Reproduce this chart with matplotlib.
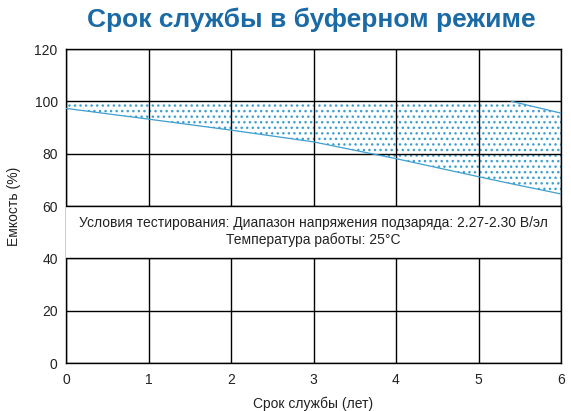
import numpy as np
import matplotlib.pyplot as plt

plt.rcParams['font.family'] = ['Liberation Sans', 'DejaVu Sans']
plt.rcParams['hatch.linewidth'] = 1.0

# data
years = [0, 1, 2, 3, 4, 5, 5.4, 6]
upper = [100, 100, 100, 100, 100, 100, 100, 95.5]
lower = [97.3, 93.2, 89.0, 84.5, 78.1, 71.2, 68.5, 64.6]

xticks = [0, 1, 2, 3, 4, 5, 6]
yticks = [0, 20, 40, 60, 80, 100, 120]

blue = '#3f9fd0'

fig = plt.figure(figsize=(5.71, 4.11), dpi=100)
ax = fig.add_axes([66 / 571, 1 - 363 / 411, 495 / 571, 314 / 411])

ax.fill_between(years, lower, upper, facecolor='none', edgecolor=blue,
                hatch='...', linewidth=0, zorder=1)
ax.plot(years, lower, color=blue, lw=0.9, zorder=3)
ax.plot(years[-2:], upper[-2:], color=blue, lw=0.9, zorder=3)

ax.set_xlim(0, 6)
ax.set_ylim(0, 120)
ax.set_xticks(xticks)
ax.set_yticks(yticks)
ax.grid(True, color='black', lw=1, zorder=2)
ax.set_axisbelow(False)
for s in ax.spines.values():
    s.set_color('black')
    s.set_linewidth(1)
ax.tick_params(length=0, labelsize=10, colors='#222222')
ax.tick_params(axis='x', pad=7)
ax.tick_params(axis='y', pad=6)

# white box for the test conditions
ax.axhspan(40, 60, facecolor='white', edgecolor='none', zorder=4)
ax.axhline(60, color='black', lw=1, zorder=5)
ax.axhline(40, color='black', lw=1, zorder=5)
ax.plot([6, 6], [40, 60], color='black', lw=1, zorder=5, clip_on=False)
ax.text(3, 53.5, 'Условия тестирования: Диапазон напряжения подзаряда: 2.27-2.30 В/эл',
        ha='center', va='center', fontsize=10, color='#222222', zorder=6)
ax.text(3, 47, 'Температура работы: 25°C', ha='center', va='center',
        fontsize=10, color='#222222', zorder=6)

ax.set_xlabel('Срок службы (лет)', fontsize=10, color='#222222', labelpad=7)
ax.set_ylabel('Емкость (%)', fontsize=10, color='#222222', labelpad=10)

fig.text(0.545, 0.953, 'Срок службы в буферном режиме', ha='center', va='center',
         fontsize=19, fontweight='bold', color='#1a6aa6')

fig.savefig('out.png', dpi=100)
